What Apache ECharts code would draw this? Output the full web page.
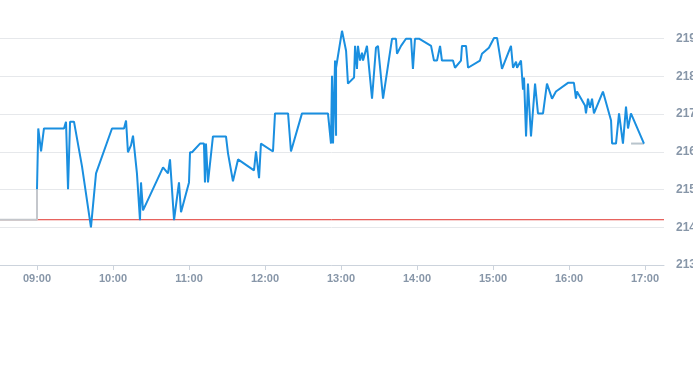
<!DOCTYPE html>
<html><head><meta charset="utf-8">
<script src="https://cdn.jsdelivr.net/npm/echarts@6/dist/echarts.min.js"></script>
<style>html,body{margin:0;padding:0;background:#fff}#c{width:693px;height:365px}</style>
</head><body><div id="c"></div>
<script>
// minutes since midnight
const priceTimes = [540,541,543.2,545.5,561.3,562.9,564.5,566.1,569.2,575.5,582.6,586.6,599.2,608.7,610.3,611.8,614.2,615.8,618.9,621.3,622.1,623.7,639.5,643.4,645,645.8,648.2,652.1,653.7,660,660.8,662.4,668.7,671.8,672.6,673.4,675,678.9,689.2,690.8,694.7,698.7,711.3,712.9,715.3,716.8,726.3,727.9,738.2,740.5,749.2,769.7,772.1,772.9,773.7,775.3,776.1,776.1,777.6,780.8,784,785.5,790.3,791.1,792.6,793.4,795,796.6,797.4,800.5,804.5,807.6,809.2,813.2,820.3,823.4,824.2,827.4,831.3,835.3,836.8,838.4,841.6,851.1,853.4,855.8,858.2,859.7,868.4,870,874.7,875.5,878.7,880.3,889.7,891.3,896.8,900.8,903.2,907.1,914.2,915.8,918.2,919,922.1,923.7,924.5,926.1,927.6,930,930.8,933.2,935.5,939.5,942.6,946.6,949.7,959.2,963.9,965.5,966.3,972.6,973.4,975,976.6,978.2,979.7,986.8,993.2,994,997.1,999.5,1002.6,1005,1006.6,1008.9,1019.2];
const priceValues = [215.01,216.62,216.01,216.62,216.62,216.80,215.01,216.80,216.80,215.62,214.00,215.43,216.62,216.62,216.83,215.99,216.17,216.43,215.43,214.19,215.19,214.45,215.59,215.43,215.80,215.80,214.19,215.19,214.40,215.19,215.99,215.99,216.22,216.22,215.19,216.22,215.19,216.41,216.41,215.96,215.22,215.80,215.51,216.01,215.30,216.22,216.01,217.02,217.02,216.01,217.02,217.02,216.22,218.02,216.22,218.42,216.43,218.23,218.20,219.21,218.68,217.81,217.97,218.81,218.20,218.81,218.42,218.63,218.42,218.81,217.41,218.76,218.81,217.41,219.00,219.00,218.60,218.81,219.00,219.00,218.20,219.00,219.00,218.81,218.42,218.42,218.81,218.42,218.42,218.23,218.42,218.81,218.81,218.23,218.42,218.60,218.76,219.02,219.02,218.20,218.81,218.23,218.39,218.23,218.42,217.65,217.97,216.41,217.81,216.41,216.41,217.81,217.02,217.02,217.81,217.41,217.60,217.83,217.83,217.41,217.60,217.23,217.02,217.41,217.17,217.41,217.02,217.60,216.83,216.22,216.22,217.02,216.22,217.20,216.62,217.02,216.22];
const preTimes = [510,540,540];
const preValues = [214.2,214.2,215.01];
const postTimes = [1009,1019.2];
const postValues = [216.22,216.22];
const previousClose = 214.2;
const hourTicks = [540,600,660,720,780,840,900,960,1020];
const xMin = 510, xMax = 1035;

function pairs(t,v){return t.map((x,i)=>[x,v[i]]);}
function fmt(m){const h=Math.floor(m/60),mm=Math.round(m%60);return String(h).padStart(2,'0')+':'+String(mm).padStart(2,'0');}

const chart = echarts.init(document.getElementById('c'));
chart.setOption({
  animation:false,
  grid:{left:-1,right:29,top:1,bottom:100,containLabel:false,outerBoundsMode:'none'},
  xAxis:{type:'value',min:xMin,max:xMax,
    axisLine:{show:true,lineStyle:{color:'#ccd3dc'}},
    axisTick:{show:true,customValues:hourTicks,length:5,lineStyle:{color:'#ccd3dc'}},
    axisLabel:{customValues:hourTicks,formatter:v=>fmt(v),color:'#8796a8',fontSize:11,fontWeight:'bold',fontFamily:'Liberation Sans, Arial',margin:8},
    splitLine:{show:false}},
  yAxis:{type:'value',position:'right',min:213,max:220,interval:1,
    axisLine:{show:false},axisTick:{show:false},
    axisLabel:{formatter:v=>v>=220?'':String(v),color:'#8796a8',fontSize:12,fontWeight:'bold',fontFamily:'Liberation Sans, Arial',margin:12},
    splitLine:{show:true,showMaxLine:false,lineStyle:{color:'#e6e8eb'}}},
  series:[
    {type:'line',data:[[xMin,previousClose],[xMax,previousClose]],symbol:'none',lineStyle:{color:'#e0342e',width:1},z:1,silent:true},
    {type:'line',data:pairs(preTimes,preValues),symbol:'none',lineStyle:{color:'#c4c7cc',width:2},z:2},
    {type:'line',data:pairs(postTimes,postValues),symbol:'none',lineStyle:{color:'#b8c4cc',width:2},z:2},
    {type:'line',data:pairs(priceTimes,priceValues),symbol:'none',lineStyle:{color:'#1a8fe0',width:2},z:3}
  ]
});
</script></body></html>
